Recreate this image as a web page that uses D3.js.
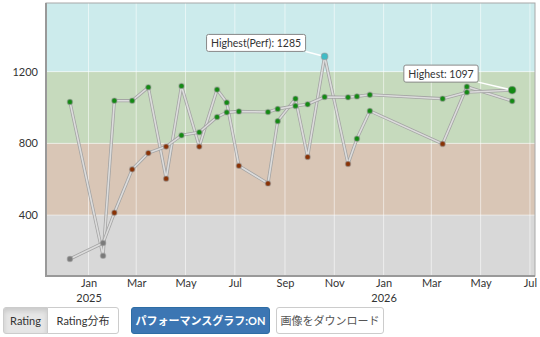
<!DOCTYPE html>
<html>
<head>
<meta charset="utf-8">
<style>
body { margin: 0; background: #fff; font-family: "Lato", "Noto Sans CJK JP", sans-serif; }
#chart { position: absolute; left: 0; top: 0; }
.btn {
    position: absolute;
    top: 307px;
    height: 27px;
    line-height: 25px;
    box-sizing: border-box;
    border: 1px solid #ccc;
    background: #fff;
    color: #333;
    font-size: 11px;
    text-align: center;
    font-family: "Lato", "Noto Sans CJK JP", sans-serif;
}
</style>
</head>
<body>
<svg id="chart" width="540" height="305"></svg>
<div class="btn" style="left:3px;width:45px;background:#e6e6e6;border-radius:3px 0 0 3px;box-shadow:inset 0 3px 5px rgba(0,0,0,0.125);">Rating</div>
<div class="btn" style="left:47px;width:72px;border-radius:0 3px 3px 0;">Rating分布</div>
<div class="btn" style="left:131px;width:139px;background:#3c76b3;border-color:#2e6da4;color:#fff;font-weight:bold;border-radius:3px;">パフォーマンスグラフ:ON</div>
<div class="btn" style="left:276px;width:108px;color:#555;border-radius:3px;">画像をダウンロード</div>
<script src="https://cdn.jsdelivr.net/npm/d3@7"></script>
<script>
// contest dates
var dates = ["2024-12-09", "2025-01-19", "2025-02-02", "2025-02-24", "2025-03-16", "2025-04-07",
             "2025-04-26", "2025-05-18", "2025-06-09", "2025-06-21", "2025-07-06", "2025-08-11",
             "2025-08-23", "2025-09-14", "2025-09-29", "2025-10-20", "2025-11-18", "2025-11-29",
             "2025-12-15", "2026-03-15", "2026-04-14", "2026-06-09"];
var rating = [155, 244, 413, 655, 746, 782, 845, 862, 947, 973, 978, 975,
              992, 1009, 1018, 1059, 1057, 1062, 1071, 1049, 1085, 1097];
var perf = [1031, 173, 1038, 1038, 1113, 603, 1120, 782, 1100, 1028, 675, 576,
            924, 1049, 724, 1285, 685, 826, 981, 797, 1116, 1036];
var bands = [[0, 400, "#d8d8d8"], [400, 800, "#d9c6b6"], [800, 1200, "#c6dabd"], [1200, 1600, "#ccebec"]];
var yTicks = [400, 800, 1200];
var months = ["Jan", "Feb", "Mar", "Apr", "May", "Jun", "Jul", "Aug", "Sep", "Oct", "Nov", "Dec"];

function rankColor(v) {
    if (v < 400) return "#7a7a7a";
    if (v < 800) return "#8a3205";
    if (v < 1200) return "#138a13";
    return "#3fbcc6";
}

var parse = d3.timeParse("%Y-%m-%d");
var rows = dates.map(function (d, i) { return { date: parse(d), rating: rating[i], perf: perf[i] }; });

var svg = d3.select("#chart");
var pl = 46, pr = 535, pt = 3, pb = 276;

var x = d3.scaleTime()
    .domain([new Date(2024, 10, 9, 10), new Date(2026, 6, 7, 6)])
    .range([pl, pr]);
var y = d3.scaleLinear().domain([60, 1583]).range([pb, pt]);

svg.append("clipPath").attr("id", "clip")
    .append("rect").attr("x", pl).attr("y", pt).attr("width", pr - pl).attr("height", pb - pt);

var plot = svg.append("g").attr("clip-path", "url(#clip)");

plot.selectAll("rect.band").data(bands).enter().append("rect")
    .attr("class", "band")
    .attr("x", pl).attr("width", pr - pl)
    .attr("y", function (d) { return y(d[1]); })
    .attr("height", function (d) { return y(d[0]) - y(d[1]); })
    .attr("fill", function (d) { return d[2]; });

var monthTicks = x.ticks(d3.timeMonth.every(2));

plot.selectAll("line.vgrid").data(monthTicks).enter().append("line")
    .attr("x1", function (d) { return x(d); }).attr("x2", function (d) { return x(d); })
    .attr("y1", pt).attr("y2", pb)
    .attr("stroke", "#fff").attr("stroke-opacity", 0.55).attr("stroke-width", 1);

plot.selectAll("line.hgrid").data(yTicks).enter().append("line")
    .attr("x1", pl).attr("x2", pr)
    .attr("y1", function (d) { return y(d); }).attr("y2", function (d) { return y(d); })
    .attr("stroke", "#fff").attr("stroke-opacity", 0.5).attr("stroke-width", 1);

// border
svg.append("rect").attr("x", pl).attr("y", pt).attr("width", pr - pl).attr("height", pb - pt)
    .attr("fill", "none").attr("stroke", "#a8a8a8").attr("stroke-width", 1);
svg.append("path").attr("d", "M" + pl + "," + pt + "V" + pb + "H" + pr)
    .attr("fill", "none").attr("stroke", "#999").attr("stroke-width", 2);

// axes
var yAxis = svg.append("g").attr("transform", "translate(" + (pl - 8) + ",0)")
    .call(d3.axisLeft(y).tickValues(yTicks).tickSize(0).tickPadding(0).tickFormat(d3.format("d")));
yAxis.select(".domain").remove();
yAxis.selectAll("text").attr("font-family", "Lato").attr("font-size", "11px").attr("fill", "#333");

var xAxis = svg.append("g").attr("transform", "translate(0," + pb + ")")
    .call(d3.axisBottom(x).tickValues(monthTicks).tickSize(0).tickPadding(3)
        .tickFormat(function (d) { return months[d.getMonth()]; }));
xAxis.select(".domain").remove();
xAxis.selectAll("text").attr("font-family", "Lato").attr("font-size", "11px").attr("fill", "#333");
xAxis.selectAll(".tick").filter(function (d) { return d.getMonth() === 0; })
    .append("text").attr("y", 25.5).attr("text-anchor", "middle")
    .attr("font-family", "Lato").attr("font-size", "11px").attr("fill", "#333")
    .text(function (d) { return d.getFullYear(); });

// lines
function drawLine(key) {
    var line = d3.line().x(function (d) { return x(d.date); }).y(function (d) { return y(d[key]); });
    plot.append("path").datum(rows).attr("d", line)
        .attr("fill", "none").attr("stroke", "#a4a4a4").attr("stroke-width", 3.2).attr("stroke-linejoin", "round");
    plot.append("path").datum(rows).attr("d", line)
        .attr("fill", "none").attr("stroke", "#dcdcdc").attr("stroke-width", 1.6).attr("stroke-linejoin", "round");
}
drawLine("perf");
drawLine("rating");

// labels for highest values
function drawLabel(txt, px, py, dx, dy) {
    var g = svg.append("g");
    var t = g.append("text").attr("font-family", "Lato").attr("font-size", "10.5px").attr("fill", "#333").text(txt);
    var w = t.node().getComputedTextLength() + 9, h = 17;
    var bx = px + dx - w, by = py + dy - h;
    g.insert("line", "text").attr("x1", bx + w).attr("y1", by + h).attr("x2", px).attr("y2", py)
        .attr("stroke", "#fff").attr("stroke-width", 1.5);
    g.insert("rect", "text").attr("x", bx).attr("y", by).attr("width", w).attr("height", h)
        .attr("rx", 2).attr("fill", "#fff").attr("stroke", "#888").attr("stroke-width", 1);
    t.attr("x", bx + 4.5).attr("y", by + 12.5);
}

var hiPerf = rows[d3.maxIndex(rows, function (d) { return d.perf; })];
var hiRate = rows[d3.maxIndex(rows, function (d) { return d.rating; })];
drawLabel("Highest(Perf): " + hiPerf.perf, x(hiPerf.date), y(hiPerf.perf), -19, -5);
drawLabel("Highest: " + hiRate.rating, x(hiRate.date), y(hiRate.rating), -34, -8);

// points
function drawPoints(key) {
    svg.append("g").selectAll("circle").data(rows).enter().append("circle")
        .attr("cx", function (d) { return x(d.date); })
        .attr("cy", function (d) { return y(d[key]); })
        .attr("r", function (d, i) { return (key === "rating" && i === rows.length - 1) ? 3.8 : (d[key] >= 1200 ? 3.3 : 2.6); })
        .attr("fill", function (d) { return rankColor(d[key]); })
        .attr("stroke", "rgba(150,150,150,0.5)").attr("stroke-width", 1.3);
}
drawPoints("perf");
drawPoints("rating");
</script>
</body>
</html>
